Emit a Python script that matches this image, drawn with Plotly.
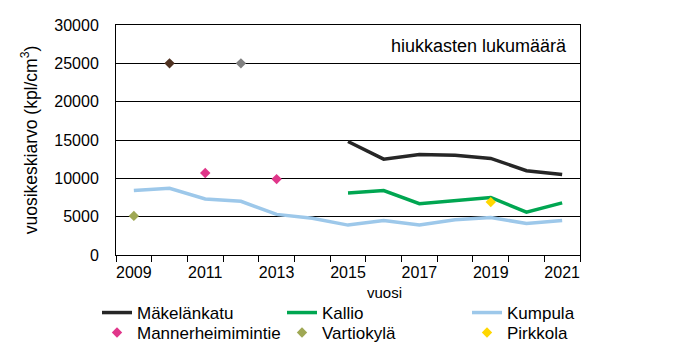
import plotly.graph_objects as go

years = list(range(2009, 2022))
makelankatu_years = [2015, 2016, 2017, 2018, 2019, 2020, 2021]
makelankatu = [14800, 12500, 13100, 13000, 12600, 11000, 10500]
kallio_years = [2015, 2016, 2017, 2018, 2019, 2020, 2021]
kallio = [8100, 8400, 6700, 7100, 7500, 5600, 6800]
kumpula_years = years
kumpula = [8400, 8700, 7300, 7000, 5300, 4800, 3900, 4500, 3900, 4600, 4900, 4100, 4500]
mannerheimintie_years = [2011, 2013]
mannerheimintie = [10700, 9900]
vartiokyla_years = [2009]
vartiokyla = [5100]
pirkkola_years = [2019]
pirkkola = [6900]
hidden1_years = [2010]
hidden1 = [25000]
hidden2_years = [2012]
hidden2 = [25000]

x_tick_labels = ["2009", "2011", "2013", "2015", "2017", "2019", "2021"]
x_tick_vals = [int(t) for t in x_tick_labels]

FONT = "Liberation Sans, Arial, sans-serif"

fig = go.Figure()
fig.add_trace(go.Scatter(x=makelankatu_years, y=makelankatu, mode="lines", name="Mäkelänkatu",
                         line=dict(color="#262626", width=3.5), legend="legend"))
fig.add_trace(go.Scatter(x=kallio_years, y=kallio, mode="lines", name="Kallio",
                         line=dict(color="#00A651", width=3.5), legend="legend"))
fig.add_trace(go.Scatter(x=kumpula_years, y=kumpula, mode="lines", name="Kumpula",
                         line=dict(color="#9DC8EA", width=3.5), legend="legend"))
fig.add_trace(go.Scatter(x=mannerheimintie_years, y=mannerheimintie, mode="markers", name="Mannerheimimintie",
                         marker=dict(symbol="diamond", color="#E0368A", size=8), legend="legend2"))
fig.add_trace(go.Scatter(x=vartiokyla_years, y=vartiokyla, mode="markers", name="Vartiokylä",
                         marker=dict(symbol="diamond", color="#9FA854", size=8), legend="legend2"))
fig.add_trace(go.Scatter(x=pirkkola_years, y=pirkkola, mode="markers", name="Pirkkola",
                         marker=dict(symbol="diamond", color="#FFD700", size=8), legend="legend2"))
fig.add_trace(go.Scatter(x=hidden1_years, y=hidden1, mode="markers", showlegend=False, name="2010",
                         marker=dict(symbol="diamond", color="#4F3222", size=8)))
fig.add_trace(go.Scatter(x=hidden2_years, y=hidden2, mode="markers", showlegend=False, name="2012",
                         marker=dict(symbol="diamond", color="#808080", size=8)))

# page has an 8px body margin, so the figure is 8px smaller and margins shifted
PL, PT, PW, PH = 108, 17, 464, 230
FW, FH = 678, 356


def py(y_px):
    return (PT + PH - (y_px - 8)) / PH


def px(x_px):
    return ((x_px - 8) - PL) / PW


legend_common = dict(orientation="h", xanchor="left", yanchor="middle",
                     entrywidth=140, entrywidthmode="pixels", font=dict(size=17),
                     itemwidth=30, bgcolor="rgba(0,0,0,0)", borderwidth=0)

fig.update_layout(
    width=FW, height=FH,
    margin=dict(l=PL, r=FW - PL - PW, t=PT, b=FH - PT - PH, autoexpand=False),
    paper_bgcolor="white", plot_bgcolor="white",
    font=dict(family=FONT, size=16, color="black"),
    showlegend=True,
    legend=dict(x=px(97), y=py(313), **legend_common),
    legend2=dict(x=px(97), y=py(333), **legend_common),
    xaxis=dict(range=[2008.5, 2021.5], tickvals=x_tick_vals, ticktext=x_tick_labels,
               ticks="", showgrid=False, zeroline=False,
               showline=True, linecolor="black", linewidth=1, mirror=True,
               tickfont=dict(size=16), ticklabelstandoff=3,
               minor=dict(tick0=2008.5, dtick=1, ticks="outside", ticklen=6,
                          tickcolor="black", tickwidth=1, showgrid=False)),
    yaxis=dict(range=[0, 30000], dtick=5000, tickformat="d",
               showgrid=True, gridcolor="black", gridwidth=1, zeroline=False,
               showline=True, linecolor="black", linewidth=1, mirror=True,
               ticks="", tickfont=dict(size=16), ticklabelstandoff=13,
               title=dict(text="vuosikeskiarvo (kpl/cm<sup>3</sup>)", font=dict(size=17.5), standoff=12)),
    annotations=[
        dict(text="hiukkasten lukumäärä", xref="paper", yref="paper", x=px(569), y=py(45.5),
             xanchor="right", yanchor="middle", showarrow=False, font=dict(size=18)),
        dict(text="vuosi", xref="paper", yref="paper", x=px(384.5), y=py(292),
             xanchor="center", yanchor="middle", showarrow=False, font=dict(size=15)),
    ],
)

fig.write_html("out.html")
